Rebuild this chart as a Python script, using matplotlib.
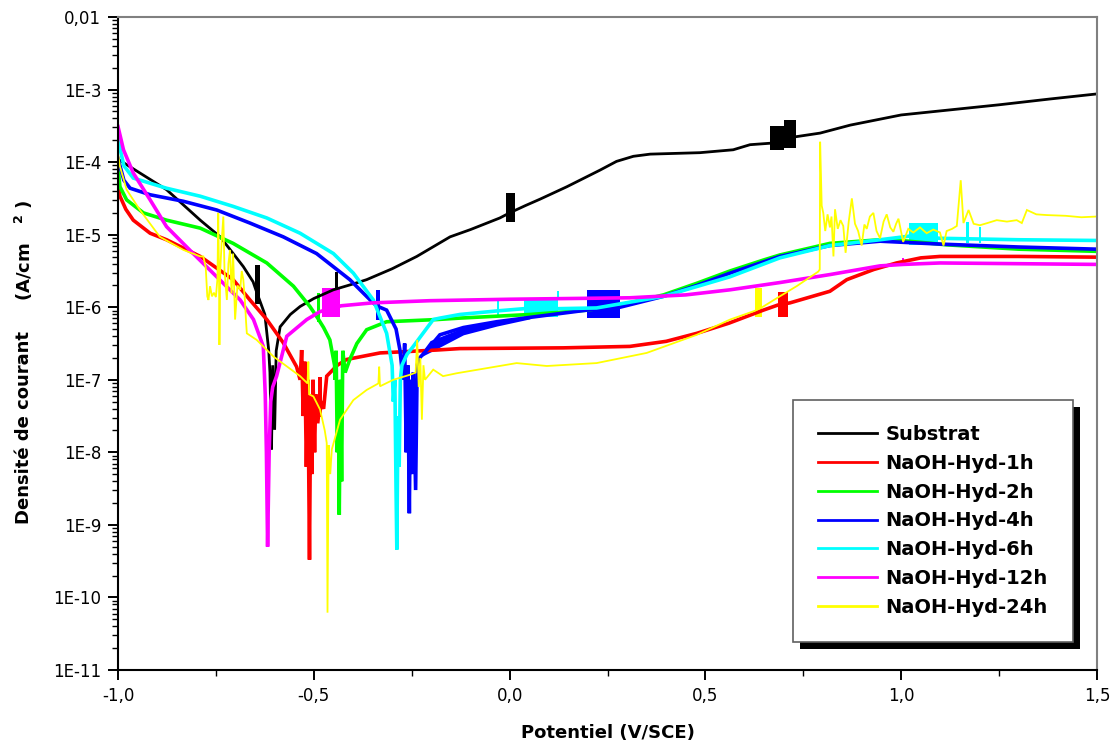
import numpy as np
import matplotlib
matplotlib.use("Agg")
import matplotlib.pyplot as plt
from matplotlib.ticker import FixedLocator, FixedFormatter, NullFormatter, LogLocator
from matplotlib.patches import Rectangle

# ---------------- data (potential V/SCE, log10 of current density A/cm2) ----------------
series_names = ["Substrat", "NaOH-Hyd-1h", "NaOH-Hyd-2h", "NaOH-Hyd-4h",
                "NaOH-Hyd-6h", "NaOH-Hyd-12h", "NaOH-Hyd-24h"]
series_colors = ["#000000", "#FF0000", "#00FF00", "#0000FF", "#00FFFF", "#FF00FF", "#FFFF00"]

sub_v = [-1.0, -0.95, -0.876, -0.79, -0.739, -0.68, -0.655, -0.648, -0.625, -0.615, -0.612, -0.608,
         -0.605, -0.600, -0.596, -0.586, -0.56, -0.535, -0.50, -0.45, -0.40, -0.365, -0.30, -0.237,
         -0.152, -0.10, -0.025, 0.0, 0.04, 0.078, 0.146, 0.231, 0.273, 0.316, 0.359, 0.486, 0.571,
         0.614, 0.665, 0.731, 0.793, 0.87, 1.0, 1.125, 1.25, 1.38, 1.5]
sub_lj = [-3.96, -4.13, -4.38, -4.80, -5.03, -5.44, -5.65, -5.76, -6.10, -6.60, -6.90, -7.96,
          -6.80, -7.69, -6.60, -6.27, -6.10, -5.99, -5.88, -5.76, -5.68, -5.62, -5.47, -5.30,
          -5.03, -4.93, -4.77, -4.70, -4.60, -4.51, -4.34, -4.11, -3.99, -3.92, -3.89, -3.87, -3.83,
          -3.76, -3.74, -3.65, -3.60, -3.49, -3.35, -3.28, -3.21, -3.13, -3.06]
sub_blocks = [(-0.650, -0.638, -5.95, -5.42), (-0.445, -0.437, -5.75, -5.52),
              (-0.008, 0.013, -4.82, -4.42), (0.665, 0.700, -3.83, -3.50), (0.700, 0.731, -3.80, -3.42)]

h1_v = [-1.0, -0.995, -0.98, -0.961, -0.918, -0.876, -0.79, -0.706, -0.663, -0.62, -0.578, -0.544,
        -0.535, -0.531, -0.527, -0.523, -0.519, -0.515, -0.511, -0.508, -0.505, -0.502, -0.498,
        -0.495, -0.49, -0.484, -0.475, -0.467, -0.44, -0.416, -0.331, -0.186, -0.127, 0.137, 0.307,
        0.40, 0.478, 0.56, 0.648, 0.685, 0.716, 0.818, 0.861, 0.93, 0.988, 1.05, 1.099, 1.3, 1.5]
h1_lj = [-4.33, -4.47, -4.65, -4.80, -4.98, -5.07, -5.30, -5.62, -5.90, -6.17, -6.49, -6.82,
         -7.00, -6.59, -7.50, -6.75, -8.20, -7.00, -9.48, -7.20, -8.30, -7.00, -8.00,
         -7.20, -7.60, -7.28, -7.40, -6.95, -6.80, -6.72, -6.63, -6.59, -6.57, -6.56, -6.54,
         -6.47, -6.36, -6.22, -6.04, -5.97, -5.94, -5.78, -5.62, -5.48, -5.39, -5.32, -5.30, -5.30, -5.31]
h1_blocks = [(-0.490, -0.478, -7.51, -6.96), (0.685, 0.711, -6.13, -5.79)]

h2_v = [-1.0, -0.995, -0.978, -0.935, -0.876, -0.79, -0.706, -0.62, -0.552, -0.51, -0.49, -0.475,
        -0.459, -0.447, -0.446, -0.443, -0.440, -0.437, -0.435, -0.432, -0.429, -0.426, -0.42,
        -0.408, -0.39, -0.365, -0.314, -0.186, -0.127, 0.052, 0.20, 0.307, 0.393, 0.478, 0.563,
        0.648, 0.69, 0.818, 0.946, 1.0, 1.116, 1.3, 1.5]
h2_lj = [-4.07, -4.34, -4.52, -4.70, -4.80, -4.91, -5.12, -5.39, -5.71, -5.99, -6.15, -6.28,
         -6.45, -6.80, -7.00, -6.60, -8.00, -7.20, -8.86, -7.00, -8.40, -6.60, -6.90,
         -6.72, -6.50, -6.31, -6.20, -6.17, -6.15, -6.10, -6.04, -5.94, -5.83, -5.67, -5.50,
         -5.35, -5.28, -5.12, -5.07, -5.08, -5.14, -5.20, -5.23]
h2_blocks = [(-0.492, -0.485, -6.21, -5.80)]

h4_v = [-1.0, -0.985, -0.969, -0.918, -0.833, -0.748, -0.663, -0.578, -0.493, -0.408, -0.356,
        -0.340, -0.314, -0.29, -0.28, -0.272, -0.268, -0.264, -0.260, -0.256, -0.253, -0.250,
        -0.246, -0.240, -0.236, -0.230, -0.203, -0.178, -0.118, -0.033, 0.052, 0.197, 0.282,
        0.393, 0.478, 0.563, 0.69, 0.818, 0.946, 1.099, 1.3, 1.5]
h4_lj = [-3.95, -4.25, -4.36, -4.45, -4.54, -4.66, -4.84, -5.03, -5.26, -5.62, -5.90,
         -5.98, -6.04, -6.30, -6.59, -7.00, -6.50, -8.00, -6.80, -8.84, -7.00, -8.30,
         -6.90, -8.52, -6.80, -6.70, -6.54, -6.38, -6.28, -6.20, -6.14, -6.04, -6.00,
         -5.85, -5.70, -5.53, -5.30, -5.15, -5.09, -5.13, -5.17, -5.20]
h4_blocks = [(-0.340, -0.330, -6.17, -5.76), (0.197, 0.282, -6.15, -5.76)]
h4_thick_v = [-0.225, -0.203, -0.118, -0.033, 0.052]
h4_thick_lo = [-6.68, -6.62, -6.38, -6.26, -6.16]
h4_thick_hi = [-6.62, -6.46, -6.28, -6.19, -6.13]

h6_v = [-1.0, -0.985, -0.961, -0.876, -0.79, -0.706, -0.62, -0.535, -0.45, -0.399, -0.348,
        -0.314, -0.30, -0.297, -0.293, -0.290, -0.288, -0.285, -0.282, -0.279, -0.275, -0.262,
        -0.246, -0.195, -0.178, -0.127, -0.03, 0.037, 0.124, 0.222, 0.393, 0.563, 0.69, 0.818,
        0.946, 1.021, 1.10, 1.3, 1.5]
h6_lj = [-3.69, -4.05, -4.22, -4.36, -4.47, -4.61, -4.77, -4.98, -5.26, -5.53, -5.90,
         -6.36, -6.80, -7.30, -7.00, -8.50, -9.34, -7.50, -8.20, -7.00, -6.80, -6.65,
         -6.54, -6.17, -6.15, -6.10, -6.05, -6.02, -6.02, -6.01, -5.85, -5.58, -5.32, -5.15,
         -5.07, -5.02, -5.05, -5.07, -5.08]
h6_blocks = [(-0.031, -0.026, -6.13, -5.91), (0.037, 0.124, -6.13, -5.88), (0.121, 0.126, -5.90, -5.78),
             (1.021, 1.095, -5.14, -4.84), (1.166, 1.172, -5.12, -4.82), (1.198, 1.204, -5.12, -4.89)]

h12_v = [-1.0, -0.986, -0.961, -0.918, -0.876, -0.808, -0.748, -0.688, -0.654, -0.629, -0.624,
         -0.621, -0.618, -0.614, -0.610, -0.605, -0.595, -0.569, -0.518, -0.484, -0.43, -0.35,
         -0.203, 0.0, 0.307, 0.45, 0.563, 0.69, 0.818, 0.946, 1.005, 1.099, 1.5]
h12_lj = [-3.51, -3.83, -4.15, -4.52, -4.89, -5.26, -5.58, -5.90, -6.17, -6.54, -7.20,
          -8.00, -9.30, -8.00, -7.30, -7.10, -6.95, -6.40, -6.17, -6.06, -5.98, -5.94,
          -5.91, -5.89, -5.87, -5.83, -5.76, -5.66, -5.55, -5.43, -5.41, -5.39, -5.41]
h12_blocks = [(-0.480, -0.432, -6.13, -5.74), (1.003, 1.008, -5.42, -5.32)]

h24_v = [-1.0, -0.995, -0.978, -0.944, -0.893, -0.833, -0.79, -0.782, -0.776, -0.772, -0.769,
         -0.765, -0.760, -0.755, -0.750, -0.746, -0.744, -0.742, -0.741, -0.739, -0.735, -0.731,
         -0.728, -0.722, -0.718, -0.714, -0.710, -0.706, -0.701, -0.695, -0.688, -0.684, -0.680,
         -0.676, -0.673, -0.671, -0.646, -0.603, -0.535, -0.516, -0.514, -0.512, -0.501, -0.484,
         -0.472, -0.467, -0.465, -0.462, -0.458, -0.454, -0.433, -0.399, -0.365, -0.335, -0.333,
         -0.331, -0.297, -0.254, -0.240, -0.236, -0.232, -0.228, -0.224, -0.220, -0.216, -0.195,
         -0.17, -0.135, 0.018, 0.095, 0.222, 0.35, 0.478, 0.563, 0.626, 0.648, 0.69, 0.733,
         0.788, 0.792, 0.793, 0.797, 0.801, 0.806, 0.812, 0.818, 0.822, 0.827, 0.831, 0.838,
         0.845, 0.852, 0.858, 0.866, 0.874, 0.882, 0.890, 0.899, 0.906, 0.912, 0.920, 0.929,
         0.937, 0.946, 0.955, 0.963, 0.972, 0.980, 0.987, 0.993, 1.005, 1.018, 1.031, 1.048,
         1.065, 1.082, 1.099, 1.108, 1.116, 1.130, 1.142, 1.152, 1.159, 1.172, 1.185, 1.201,
         1.22, 1.244, 1.27, 1.295, 1.308, 1.321, 1.345, 1.372, 1.42, 1.46, 1.5]
h24_lj = [-3.88, -4.06, -4.38, -4.66, -5.03, -5.21, -5.30, -5.30, -5.45, -5.85, -5.90,
          -5.71, -5.85, -5.80, -5.86, -5.60, -4.70, -5.60, -6.52, -5.50, -5.07, -4.75,
          -5.50, -5.90, -5.40, -5.21, -5.81, -5.26, -6.17, -5.70, -5.76, -5.50, -5.62,
          -5.90, -6.20, -6.36, -6.45, -6.68, -6.95, -7.05, -6.75, -7.20, -7.23, -7.41,
          -7.70, -7.87, -10.21, -7.90, -8.30, -7.96, -7.55, -7.28, -7.14, -7.05, -6.82,
          -7.09, -7.00, -6.93, -6.90, -6.45, -7.10, -6.70, -7.55, -6.80, -7.00, -6.86,
          -6.95, -6.91, -6.77, -6.81, -6.77, -6.63, -6.38, -6.17, -6.05, -5.99, -5.85, -5.71,
          -5.51, -5.48, -3.72, -4.60, -4.70, -4.95, -4.72, -4.90, -4.75, -5.30, -4.65, -4.92,
          -4.80, -4.88, -5.25, -4.82, -4.50, -4.85, -4.95, -5.15, -4.86, -4.92, -4.75, -4.70,
          -4.95, -5.05, -4.82, -4.72, -4.90, -4.96, -4.85, -4.78, -5.10, -4.92, -4.97, -4.90,
          -4.98, -4.93, -4.97, -5.15, -4.95, -4.92, -4.88, -4.25, -4.84, -4.66, -4.85, -4.87,
          -4.84, -4.80, -4.82, -4.80, -4.84, -4.66, -4.72, -4.73, -4.74, -4.76, -4.75]
h24_blocks = [(0.626, 0.644, -6.13, -5.74)]

x_ticks = [-1.0, -0.5, 0.0, 0.5, 1.0, 1.5]
x_ticklabels = ["-1,0", "-0,5", "0,0", "0,5", "1,0", "1,5"]
y_ticks = [1e-11, 1e-10, 1e-9, 1e-8, 1e-7, 1e-6, 1e-5, 1e-4, 1e-3, 1e-2]
y_ticklabels = ["1E-11", "1E-10", "1E-9", "1E-8", "1E-7", "1E-6", "1E-5", "1E-4", "1E-3", "0,01"]

all_v = [sub_v, h1_v, h2_v, h4_v, h6_v, h12_v, h24_v]
all_lj = [sub_lj, h1_lj, h2_lj, h4_lj, h6_lj, h12_lj, h24_lj]
all_blocks = [sub_blocks, h1_blocks, h2_blocks, h4_blocks, h6_blocks, h12_blocks, h24_blocks]
line_widths = [2.0, 2.6, 2.6, 2.6, 2.6, 2.6, 1.3]

# ---------------- figure ----------------
plt.rcParams['font.family'] = ['DejaVu Sans']
W, H = 1117, 747
fig = plt.figure(figsize=(W / 100, H / 100), dpi=100)
ax = fig.add_axes([118 / W, 1 - 670 / H, (1097 - 118) / W, (670 - 17) / H])

handles = []
for v, lj, blocks, c, lw, name in zip(all_v, all_lj, all_blocks, series_colors, line_widths, series_names):
    ln, = ax.plot(v, 10 ** np.array(lj), color=c, lw=lw, label=name, solid_joinstyle='miter')
    handles.append(ln)
    for (v0, v1, lo, hi) in blocks:
        ax.fill_between([v0, v1], [10 ** lo] * 2, [10 ** hi] * 2, color=c, lw=0)
    if name == "NaOH-Hyd-4h":
        ax.fill_between(h4_thick_v, 10 ** np.array(h4_thick_lo), 10 ** np.array(h4_thick_hi),
                        color=c, lw=0)

ax.set_yscale('log')
ax.set_xlim(-1.0, 1.5)
ax.set_ylim(1e-11, 1e-2)

ax.xaxis.set_major_locator(FixedLocator(x_ticks))
ax.xaxis.set_major_formatter(FixedFormatter(x_ticklabels))
ax.xaxis.set_minor_locator(FixedLocator([-0.75, -0.25, 0.25, 0.75, 1.25]))
ax.yaxis.set_major_locator(FixedLocator(y_ticks))
ax.yaxis.set_major_formatter(FixedFormatter(y_ticklabels))
ax.yaxis.set_minor_locator(LogLocator(base=10, subs=np.arange(2, 10), numticks=30))
ax.yaxis.set_minor_formatter(NullFormatter())

ax.tick_params(axis='both', which='major', direction='out', length=7, width=1.4,
               labelsize=12, colors='black', pad=5)
ax.tick_params(axis='both', which='minor', direction='out', length=4, width=1.0)
ax.tick_params(axis='x', which='major', pad=5)
ax.tick_params(top=False, right=False, which='both')

for s in ['left', 'bottom']:
    ax.spines[s].set_color('black')
    ax.spines[s].set_linewidth(1.5)
for s in ['top', 'right']:
    ax.spines[s].set_color('#808080')
    ax.spines[s].set_linewidth(1.5)

# axis labels
fig.text(608 / W, 1 - 733 / H, "Potentiel (V/SCE)", ha='center', va='center',
         fontsize=13, fontweight='bold')
fig.text(24 / W, 1 - 428 / H, "Densité de courant", ha='center', va='center',
         rotation=90, fontsize=13, fontweight='bold')
fig.text(24 / W, 1 - 250 / H, r"(A/cm   $^{\mathbf{2}}$ )", ha='center', va='center',
         rotation=90, fontsize=13, fontweight='bold')

# legend
leg = ax.legend(handles=handles, loc='upper left',
                bbox_to_anchor=(793 / W, 1 - 400 / H), bbox_transform=fig.transFigure,
                prop={'weight': 'bold', 'size': 14}, frameon=True, fancybox=False,
                borderpad=1.3, handlelength=3.0, handletextpad=0.45, labelspacing=0.5,
                borderaxespad=0.0, framealpha=1.0, facecolor='white', edgecolor='#606060')
leg.get_frame().set_linewidth(1.2)
for lh in leg.get_lines():
    lh.set_linewidth(2.0)
leg.set_zorder(6)

fig.canvas.draw()
bb = leg.get_window_extent()
shadow = Rectangle((bb.x0 + 7, bb.y0 - 7), bb.width, bb.height, transform=None,
                   facecolor='black', edgecolor='none', zorder=5.5, clip_on=False)
ax.add_artist(shadow)

fig.savefig("out.png", dpi=100)
